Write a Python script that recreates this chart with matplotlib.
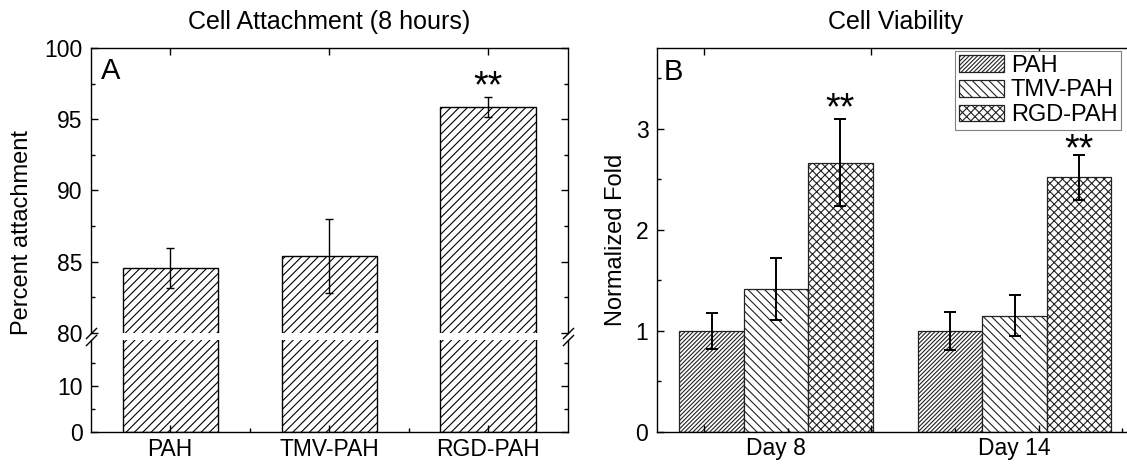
import numpy as np
import matplotlib.pyplot as plt

plt.rcParams["font.family"] = ["Liberation Sans", "DejaVu Sans"]
plt.rcParams["hatch.linewidth"] = 0.8
plt.rcParams["axes.linewidth"] = 1.0

# cell attachment after 8 hours (%)
groups = ["PAH", "TMV-PAH", "RGD-PAH"]
attach_mean = [84.56, 85.4, 95.84]
attach_err = [1.43, 2.6, 0.7]

# cell viability, fold over PAH
days = ["Day 8", "Day 14"]
fold_pah = [1.0, 1.0]
fold_pah_err = [0.175, 0.19]
fold_tmv = [1.415, 1.15]
fold_tmv_err = [0.31, 0.205]
fold_rgd = [2.665, 2.52]
fold_rgd_err = [0.43, 0.22]

fs_tick = 16.5
fs_label = 17
fs_title = 18
star_kw = dict(textcoords="offset points", ha="center", va="baseline", fontsize=27)
# Day 14 stars sit a little lower so they clear the legend
star_shift_b = [0, -3.5]


def style_ticks(ax):
    ax.tick_params(which="both", direction="in", labelsize=fs_tick, width=1.0)
    ax.tick_params(which="major", length=5)
    ax.tick_params(which="minor", length=3)
    ax.tick_params(axis="y", which="both", left=True, right=True, pad=6)


fig = plt.figure(figsize=(11.27, 4.65), dpi=100)

# ---- panel A: broken y axis (0-20 / 80-100)
ax_hi = fig.add_axes([0.0805, 0.2839, 0.4232, 0.6129])
ax_lo = fig.add_axes([0.0805, 0.0710, 0.4232, 0.1978])
x = np.arange(1, len(groups) + 1)

for ax in (ax_hi, ax_lo):
    ax.bar(x, attach_mean, 0.6, color="white", edgecolor="black", lw=1.0, hatch="////")
    ax.set_xlim(0.5, 3.5)
    style_ticks(ax)

ax_hi.errorbar(x, attach_mean, yerr=attach_err, fmt="none", ecolor="black",
               elinewidth=1.0, capsize=3, capthick=1.0)
ax_hi.set_ylim(80, 100)
ax_hi.set_yticks([80, 85, 90, 95, 100])
ax_hi.set_yticks(np.arange(82.5, 100, 5), minor=True)
ax_hi.spines["bottom"].set_visible(False)
ax_hi.set_xticks(x)
ax_hi.tick_params(axis="x", which="both", bottom=False, labelbottom=False, top=True)

ax_lo.set_ylim(0, 20)
ax_lo.set_yticks([0, 10])
ax_lo.set_yticks([5, 15], minor=True)
ax_lo.spines["top"].set_visible(False)
ax_lo.set_xticks(x, groups)
ax_lo.set_xticks([1.5, 2.5], minor=True)
ax_lo.tick_params(axis="x", which="both", top=False, pad=4)

# break marks on both spines
kw = dict(marker=[(-1, -1), (1, 1)], markersize=8, linestyle="none",
          color="k", mec="k", mew=1, clip_on=False)
ax_hi.plot([0, 1], [0, 0], transform=ax_hi.transAxes, **kw)
ax_lo.plot([0, 1], [1, 1], transform=ax_lo.transAxes, **kw)

for xi, m, e in zip(x, attach_mean, attach_err):
    if groups[xi - 1] == "RGD-PAH":
        ax_hi.annotate("**", xy=(xi, m + e), xytext=(0, 0), **star_kw)

ax_hi.text(0.022, 0.967, "A", transform=ax_hi.transAxes, fontsize=21, va="top")
ax_hi.set_title("Cell Attachment (8 hours)", fontsize=fs_title, pad=14)
fig.text(0.0195, 0.5, "Percent attachment", rotation=90, fontsize=fs_label,
         ha="center", va="center")

# ---- panel B: grouped bars
ax_b = fig.add_axes([0.5827, 0.0710, 0.4235, 0.8258])
xd = np.arange(len(days))
w = 0.27
series = [
    ("PAH", fold_pah, fold_pah_err, "////////"),
    ("TMV-PAH", fold_tmv, fold_tmv_err, "\\\\\\\\"),
    ("RGD-PAH", fold_rgd, fold_rgd_err, "xxxx"),
]
for k, (name, vals, errs, hatch) in enumerate(series):
    pos = xd + (k - 1) * w
    ax_b.bar(pos, vals, w, color="white", edgecolor="#222222", lw=0.9,
             hatch=hatch, label=name)
    ax_b.errorbar(pos, vals, yerr=errs, fmt="none", ecolor="black",
                  elinewidth=1.4, capsize=4.5, capthick=1.4)
    if name == "RGD-PAH":
        for p, v, e, dy in zip(pos, vals, errs, star_shift_b):
            ax_b.annotate("**", xy=(p, v + e), xytext=(0, dy), **star_kw)

ax_b.set_xlim(-0.5, 1.5)
ax_b.set_ylim(0, 3.8)
ax_b.set_yticks([0, 1, 2, 3])
ax_b.set_yticks([0.5, 1.5, 2.5, 3.5], minor=True)
style_ticks(ax_b)
ax_b.set_xticks([-0.3, 0.4, 1.1], ["", "", ""])
ax_b.set_xticks([0.05, 0.75, 1.45], minor=True)
ax_b.tick_params(axis="x", which="major", top=True)
ax_b.tick_params(axis="x", which="minor", top=False)
for i, d in enumerate(days):
    ax_b.text(i, -0.012, d, transform=ax_b.get_xaxis_transform(),
              ha="center", va="top", fontsize=fs_tick)

ax_b.set_ylabel("Normalized Fold", fontsize=fs_label, labelpad=6)
ax_b.set_title("Cell Viability", fontsize=fs_title, pad=14)
ax_b.text(0.015, 0.975, "B", transform=ax_b.transAxes, fontsize=21, va="top")

leg = ax_b.legend(loc="upper right", bbox_to_anchor=(0.973, 0.992), borderaxespad=0,
                  fontsize=17, fancybox=False, edgecolor="gray", framealpha=1,
                  handlelength=1.9, handleheight=0.72, handletextpad=0.3,
                  labelspacing=0.12, borderpad=0.15)
leg.get_frame().set_linewidth(0.8)

fig.savefig("out.png", dpi=100)
